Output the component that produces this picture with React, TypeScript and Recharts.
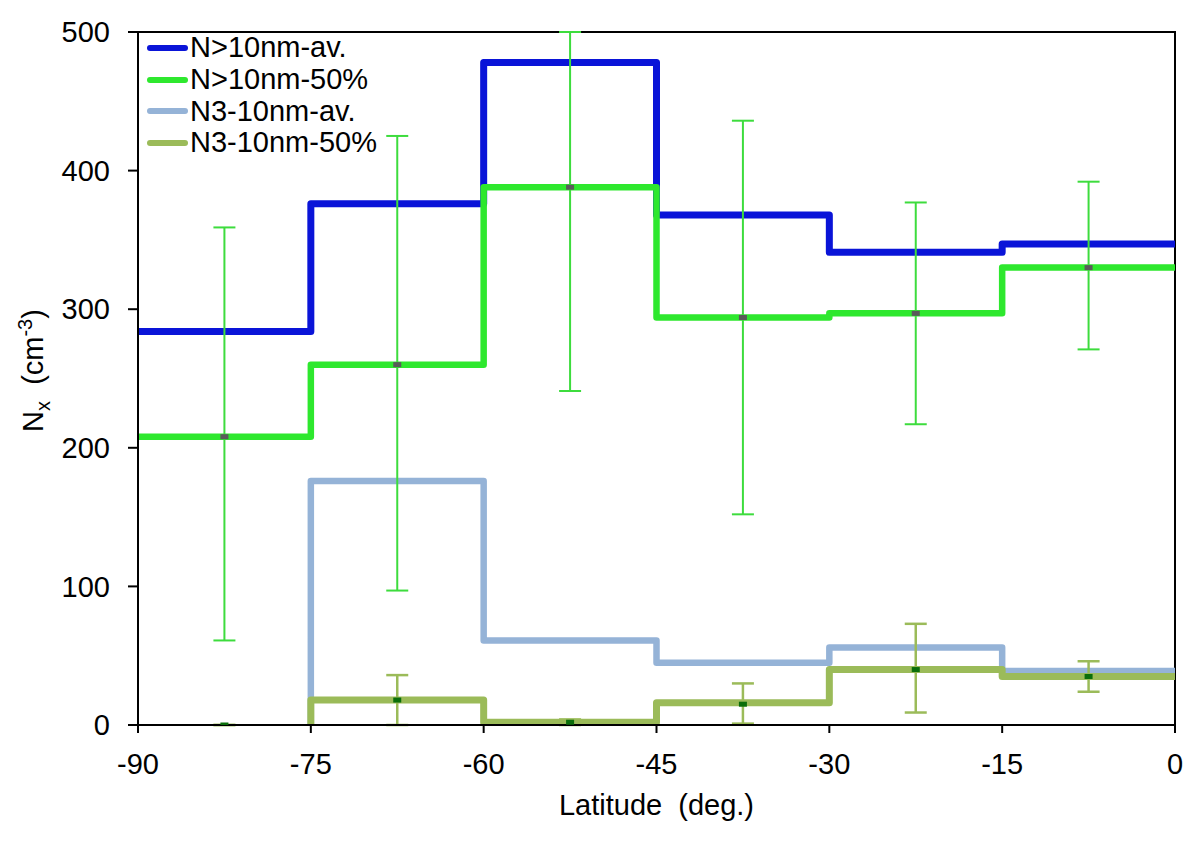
import React from 'react';
import { ComposedChart, Line, Scatter, ErrorBar, XAxis, YAxis, ReferenceArea, Legend } from 'recharts';

// Latitude bin edges and centres (deg.)
const EDGES = [-90, -75, -60, -45, -30, -15, 0];
const CENTERS = [-82.5, -67.5, -52.5, -37.5, -22.5, -7.5];
const Y_TICKS = [0, 100, 200, 300, 400, 500];

// Step series values per latitude bin (cm-3)
const N10_AV = [284, 376, 478, 368, 341, 347];
const N10_50 = [208, 260, 388, 294, 297, 330];
const N3_AV = [null, 176, 61, 45, 56, 39];
const N3_50 = [null, 18, 2, 16, 40, 35];

// Medians at bin centres with error ranges
const N10_MED = [208, 260, 388, 294, 297, 330];
const N10_LOW = [61, 97, 241, 152, 217, 271];
const N10_HIGH = [359, 425, 500, 436, 377, 392];

const N3_MED = [0, 18, 2, 15, 40, 35];
const N3_LOW = [0, 0, 0, 1, 9, 24];
const N3_HIGH = [0, 36, 4, 30, 73, 46];

const SERIES_NAMES = ['N>10nm-av.', 'N>10nm-50%', 'N3-10nm-av.', 'N3-10nm-50%'];
const BLUE = '#0a14d8';
const GREEN = '#2ee82e';
const LIGHTBLUE = '#95b3d7';
const OLIVE = '#9bbb59';
const COLORS = [BLUE, GREEN, LIGHTBLUE, OLIVE];

const FONT = '"Liberation Sans", Arial, Helvetica, sans-serif';

function steps(vals: (number | null)[]) {
  const pts: { x: number; y: number }[] = [];
  vals.forEach((v, i) => {
    if (v == null) return;
    if (pts.length === 0 && i > 0) pts.push({ x: EDGES[i], y: 0 });
    pts.push({ x: EDGES[i], y: v });
    pts.push({ x: EDGES[i + 1], y: v });
  });
  return pts;
}

function errPoints(med: number[], low: number[], high: number[]) {
  return CENTERS.map((c, i) => ({ x: c, y: med[i], err: [med[i] - low[i], high[i] - med[i]] }));
}

const stepN10Av = steps(N10_AV);
const stepN10_50 = steps(N10_50);
const stepN3Av = steps(N3_AV);
const stepN3_50 = steps(N3_50);
const errN10 = errPoints(N10_MED, N10_LOW, N10_HIGH);
const errN3 = errPoints(N3_MED, N3_LOW, N3_HIGH);

const greyMarker = (p: any) => (
  <rect x={p.cx - 4} y={p.cy - 2.5} width={8} height={5} fill="#5a5a5a" />
);
const darkGreenMarker = (p: any) => (
  <rect x={p.cx - 4} y={p.cy - 2.5} width={8} height={5} fill="#0a6e0a" />
);

const YLabel = (props: any) => {
  const vb = props.viewBox || { x: 30, y: 24, width: 100, height: 693 };
  const cx = vb.x + 5;
  const cy = vb.y + vb.height / 2 - 8;
  return (
    <text
      x={cx}
      y={cy}
      transform={`rotate(-90, ${cx}, ${cy})`}
      textAnchor="middle"
      fill="#000"
      fontFamily={FONT}
      fontSize={29}
      style={{ whiteSpace: 'pre' }}
    >
      <tspan>N</tspan>
      <tspan fontSize={20} dy={7}>x</tspan>
      <tspan dy={-7}>{'  (cm'}</tspan>
      <tspan fontSize={20} dy={-11}>-3</tspan>
      <tspan dy={11}>)</tspan>
    </text>
  );
};

const XLabel = (props: any) => {
  const vb = props.viewBox || { x: 130, y: 717, width: 1037, height: 60 };
  return (
    <text
      x={vb.x + vb.width / 2}
      y={vb.y + 90}
      textAnchor="middle"
      fill="#000"
      fontFamily={FONT}
      fontSize={29}
      style={{ whiteSpace: 'pre' }}
    >
      {'Latitude  (deg.)'}
    </text>
  );
};

const LegendContent = () => (
  <div style={{ fontFamily: FONT, fontSize: 29, color: '#000' }}>
    {SERIES_NAMES.map((n, i) => (
      <div key={n} style={{ display: 'flex', alignItems: 'center', height: 31.7, whiteSpace: 'nowrap' }}>
        <span
          style={{
            display: 'inline-block',
            width: 41,
            height: 6,
            borderRadius: 3,
            background: COLORS[i],
            marginRight: 2,
          }}
        />
        <span>{n}</span>
      </div>
    ))}
  </div>
);

export default function App() {
  return (
    <ComposedChart
      width={1180}
      height={820}
      margin={{ top: 24, right: 13, bottom: 43, left: 30 }}
      style={{ fontFamily: FONT, background: '#fff' }}
    >
      <XAxis
        dataKey="x"
        type="number"
        domain={[-90, 0]}
        ticks={EDGES}
        allowDataOverflow
        height={60}
        tickSize={8}
        tickMargin={20}
        axisLine={{ stroke: '#000', strokeWidth: 2 }}
        tickLine={{ stroke: '#000', strokeWidth: 2 }}
        tick={{ fill: '#000', fontSize: 29, fontFamily: FONT }}
        label={<XLabel />}
      />
      <YAxis
        dataKey="y"
        type="number"
        domain={[0, 500]}
        ticks={Y_TICKS}
        allowDataOverflow
        width={100}
        tickSize={10}
        tickMargin={18}
        axisLine={{ stroke: '#000', strokeWidth: 2 }}
        tickLine={{ stroke: '#000', strokeWidth: 2 }}
        tick={{ fill: '#000', fontSize: 29, fontFamily: FONT }}
        label={<YLabel />}
      />
      <ReferenceArea x1={-90} x2={0} y1={0} y2={500} fill="none" stroke="#000" strokeWidth={2} />
      <Line
        data={stepN10Av}
        dataKey="y"
        type="linear"
        stroke={BLUE}
        strokeWidth={7}
        strokeLinejoin="round"
        dot={false}
        activeDot={false}
        isAnimationActive={false}
        name={SERIES_NAMES[0]}
      />
      <Line
        data={stepN10_50}
        dataKey="y"
        type="linear"
        stroke={GREEN}
        strokeWidth={6.5}
        strokeLinejoin="round"
        dot={false}
        activeDot={false}
        isAnimationActive={false}
        name={SERIES_NAMES[1]}
      />
      <Line
        data={stepN3Av}
        dataKey="y"
        type="linear"
        stroke={LIGHTBLUE}
        strokeWidth={6.5}
        strokeLinejoin="round"
        dot={false}
        activeDot={false}
        isAnimationActive={false}
        name={SERIES_NAMES[2]}
      />
      <Line
        data={stepN3_50}
        dataKey="y"
        type="linear"
        stroke={OLIVE}
        strokeWidth={7}
        strokeLinejoin="round"
        dot={false}
        activeDot={false}
        isAnimationActive={false}
        name={SERIES_NAMES[3]}
      />
      <Scatter data={errN10} dataKey="y" shape={greyMarker} isAnimationActive={false} legendType="none">
        <ErrorBar dataKey="err" direction="y" width={11} stroke="#3ddc3d" strokeWidth={2} isAnimationActive={false} />
      </Scatter>
      <Scatter data={errN3} dataKey="y" shape={darkGreenMarker} isAnimationActive={false} legendType="none">
        <ErrorBar dataKey="err" direction="y" width={11} stroke={OLIVE} strokeWidth={2.5} isAnimationActive={false} />
      </Scatter>
      <Legend
        layout="vertical"
        align="center"
        verticalAlign="middle"
        content={<LegendContent />}
        wrapperStyle={{ left: 139, top: 24, width: 'auto', height: 'auto' }}
      />
    </ComposedChart>
  );
}
